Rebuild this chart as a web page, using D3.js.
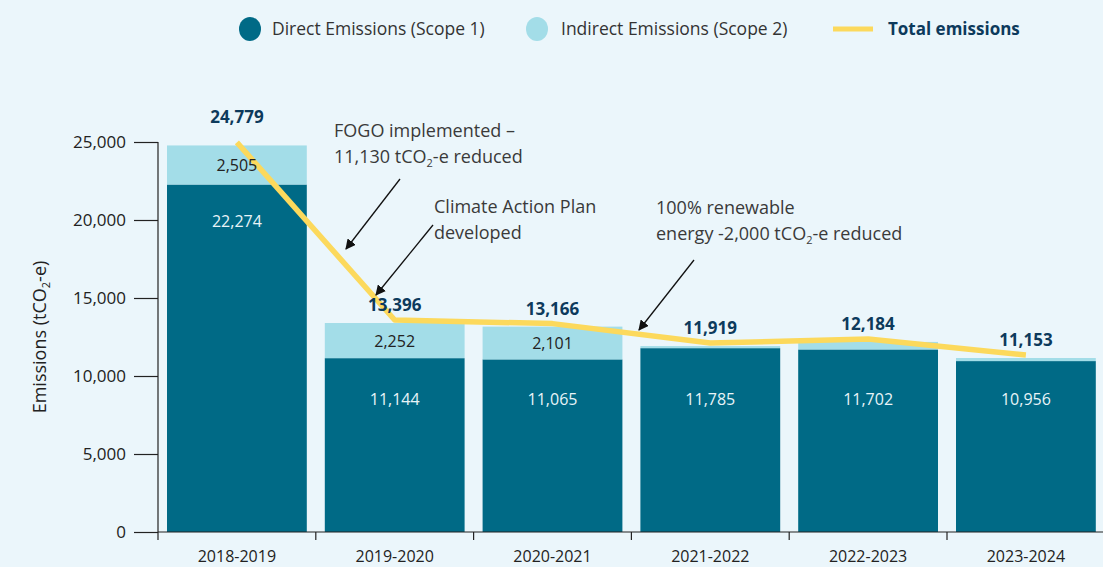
<!DOCTYPE html>
<html>
<head>
<meta charset="utf-8">
<script src="https://cdn.jsdelivr.net/npm/d3@7"></script>
<style>
  body { margin: 0; background: #ebf6fb; }
  svg { display: block; font-family: "Open Sans", sans-serif; }
</style>
</head>
<body>
<div id="chart"></div>
<script>
// data
var years = ["2018-2019", "2019-2020", "2020-2021", "2021-2022", "2022-2023", "2023-2024"];
var direct = [22274, 11144, 11065, 11785, 11702, 10956];
var indirect = [2505, 2252, 2101, 134, 482, 197];
var totals = [24779, 13396, 13166, 11919, 12184, 11153];
var yTicks = [0, 5000, 10000, 15000, 20000, 25000];

var W = 1103, H = 567;
var colDirect = "#006a86", colIndirect = "#a3dde8", colLine = "#fcd95c", navy = "#0d3a5c";

var svg = d3.select("#chart").append("svg")
    .attr("width", W).attr("height", H);

svg.append("rect").attr("width", W).attr("height", H).attr("fill", "#ebf6fb");

// scales
var x = d3.scaleBand().domain(years).range([158, 158 + 6 * 157.8]).padding(0);
var y = d3.scaleLinear().domain([0, 25000]).range([532, 142]);
var inset = 9, bw = x.bandwidth() - 2 * inset;

// y axis
var yAxis = svg.append("g")
    .attr("transform", "translate(158,0)")
    .call(d3.axisLeft(y).tickValues(yTicks).tickSize(24).tickPadding(8).tickFormat(d3.format(",")));
yAxis.select(".domain").remove();
yAxis.selectAll("line").attr("stroke", "#222").attr("stroke-width", 1.2);
yAxis.selectAll("text").attr("font-size", 17).attr("fill", "#222").style("font-family", "Open Sans");
svg.append("line").attr("x1", 158).attr("x2", 158).attr("y1", y(25000)).attr("y2", 540)
    .attr("stroke", "#222").attr("stroke-width", 1.2);

// y label
var yl = svg.append("text")
    .attr("transform", "translate(46," + y(12500) + ") rotate(-90)")
    .attr("text-anchor", "middle").attr("font-size", 18).attr("fill", "#222");
yl.append("tspan").text("Emissions (tCO");
yl.append("tspan").text("2").attr("font-size", 11).attr("dy", 4);
yl.append("tspan").text("-e)").attr("dy", -4);

// bars
var g = svg.append("g");
years.forEach(function (yr, i) {
    g.append("rect")
        .attr("x", x(yr) + inset).attr("width", bw)
        .attr("y", y(direct[i])).attr("height", y(0) - y(direct[i]))
        .attr("fill", colDirect);
    g.append("rect")
        .attr("x", x(yr) + inset).attr("width", bw)
        .attr("y", y(direct[i] + indirect[i])).attr("height", y(direct[i]) - y(direct[i] + indirect[i]))
        .attr("fill", colIndirect);
});

// x axis
svg.append("line").attr("x1", 158).attr("x2", W).attr("y1", y(0)).attr("y2", y(0))
    .attr("stroke", "#222").attr("stroke-width", 1.2);
years.forEach(function (yr, i) {
    if (i > 0) {
        svg.append("line").attr("x1", x(yr)).attr("x2", x(yr)).attr("y1", y(0)).attr("y2", 540)
            .attr("stroke", "#222").attr("stroke-width", 1.2);
    }
    svg.append("text").attr("x", x(yr) + x.bandwidth() / 2).attr("y", 562)
        .attr("text-anchor", "middle").attr("font-size", 16).attr("fill", "#222").text(yr);
});

// total line
var line = d3.line()
    .x(function (d, i) { return x(years[i]) + x.bandwidth() / 2; })
    .y(function (d) { return y(d) - 3; });
svg.append("path").datum(totals).attr("d", line)
    .attr("fill", "none").attr("stroke", colLine).attr("stroke-width", 5.5).attr("stroke-linejoin", "round");

// labels
years.forEach(function (yr, i) {
    var cx = x(yr) + x.bandwidth() / 2;
    svg.append("text").attr("x", cx).attr("y", y(totals[i]) - (i === 0 ? 22 : 12))
        .attr("text-anchor", "middle").attr("font-size", 17).attr("font-weight", 700)
        .attr("fill", navy).text(d3.format(",")(totals[i]));
    if (indirect[i] > 1000) {
        svg.append("text").attr("x", cx).attr("y", (y(direct[i]) + y(direct[i] + indirect[i])) / 2 + 6)
            .attr("text-anchor", "middle").attr("font-size", 16).attr("fill", "#222")
            .text(d3.format(",")(indirect[i]));
    }
    svg.append("text").attr("x", cx).attr("y", (i === 0 ? y(direct[i]) + 42 : y(8500) + 6))
        .attr("text-anchor", "middle").attr("font-size", 16).attr("fill", "#e8f4f8")
        .text(d3.format(",")(direct[i]));
});

// legend
var leg = svg.append("g").attr("font-size", 17.5);
leg.append("ellipse").attr("cx", 250).attr("cy", 29).attr("rx", 11).attr("ry", 12).attr("fill", colDirect);
leg.append("text").attr("x", 272).attr("y", 35).attr("fill", "#333").text("Direct Emissions (Scope 1)");
leg.append("ellipse").attr("cx", 537).attr("cy", 29).attr("rx", 11).attr("ry", 12).attr("fill", colIndirect);
leg.append("text").attr("x", 561).attr("y", 35).attr("fill", "#333").text("Indirect Emissions (Scope 2)");
leg.append("line").attr("x1", 833).attr("x2", 873).attr("y1", 29).attr("y2", 29)
    .attr("stroke", colLine).attr("stroke-width", 5);
leg.append("text").attr("x", 888).attr("y", 35).attr("fill", navy).attr("font-weight", 700)
    .attr("font-size", 17).text("Total emissions");

// annotations
svg.append("defs").append("marker")
    .attr("id", "arr").attr("viewBox", "0 0 10 10").attr("refX", 9).attr("refY", 5)
    .attr("markerWidth", 8).attr("markerHeight", 8).attr("orient", "auto")
    .append("path").attr("d", "M0,0 L10,5 L0,10 z").attr("fill", "#111");

function note(x0, y0, lines) {
    var t = svg.append("text").attr("font-size", 18).attr("fill", "#3a3a3a");
    lines.forEach(function (l, k) {
        var ts = t.append("tspan").attr("x", x0).attr("y", y0 + k * 26);
        var parts = l.split("CO2");
        if (parts.length > 1) {
            ts.text(parts[0] + "CO");
            t.append("tspan").attr("font-size", 11).attr("dy", 4).text("2");
            t.append("tspan").attr("dy", -4).text(parts[1]);
        } else {
            ts.text(l);
        }
    });
}
function arrow(x1, y1, x2, y2) {
    svg.append("line").attr("x1", x1).attr("y1", y1).attr("x2", x2).attr("y2", y2)
        .attr("stroke", "#111").attr("stroke-width", 1.3).attr("marker-end", "url(#arr)");
}
note(334, 137, ["FOGO implemented \u2013", "11,130 tCO2-e reduced"]);
arrow(400, 179, 346, 249);
note(434, 213, ["Climate Action Plan", "developed"]);
arrow(433, 225, 376, 295);
note(656, 214, ["100% renewable", "energy -2,000 tCO2-e reduced"]);
arrow(694, 260, 639, 330);
</script>
</body>
</html>
